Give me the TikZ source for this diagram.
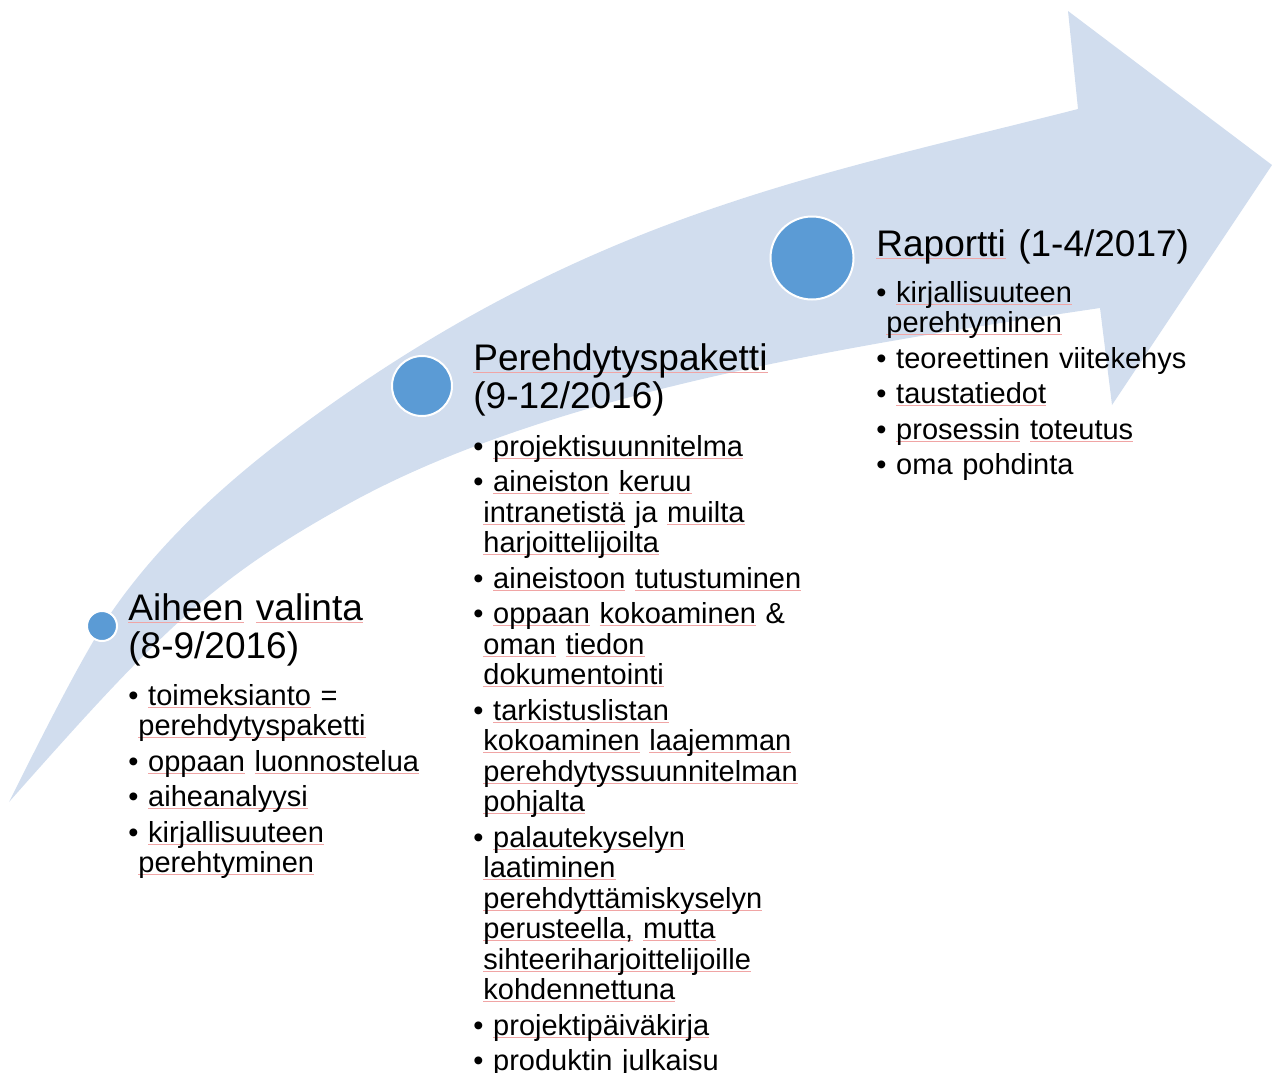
\documentclass[tikz,border=0pt]{standalone}
\usepackage{fontspec}
\setmainfont{Liberation Sans}
\definecolor{arrowfill}{RGB}{209,221,238}
\definecolor{dotfill}{RGB}{91,155,213}
\definecolor{squig}{RGB}{240,165,165}
\newsavebox\sqbox
\newcommand\sq[1]{\leavevmode\sbox\sqbox{#1}\rlap{\textcolor{squig}{\rule[-1.3pt]{\wd\sqbox}{0.5pt}}}\usebox\sqbox}
\newcommand\itm[1]{\hangindent=5pt\hangafter=1\relax\leavevmode •\ #1\par}
\tikzset{
  dot/.style={circle, fill=dotfill, draw=white, line width=1pt, inner sep=0pt},
  ttl/.style={inner sep=0pt, anchor=base west, align=left, text width=200pt,
    font=\fontsize{18.5pt}{19pt}\selectfont},
  lst/.style={inner sep=0pt, anchor=base west, align=left, text width=185pt,
    font=\fontsize{14.5pt}{15.25pt}\selectfont}
}
\begin{document}
\begin{tikzpicture}[x=0.5pt,y=-0.5pt]
\useasboundingbox (0,0) rectangle (1272,1072);
% curved arrow
\fill[arrowfill] (9,802) .. controls (40,740) and (85,650) .. (113,610)
  .. controls (173,524) and (257,456) .. (337,400)
  .. controls (607,211) and (828,173) .. (1078,109)
  -- (1068,11) -- (1272,165) -- (1112,405) -- (1100,308)
  .. controls (850,345) and (550,393) .. (350,503)
  .. controls (210,580) and (159,632.5) .. (9,802) -- cycle;
% milestones
\node[dot, minimum size=15pt] (c1) at (102,626) {};
\node[dot, minimum size=30pt] (c2) at (422,386) {};
\node[dot, minimum size=41.5pt] (c3) at (812,258) {};
% column 1
\node[ttl] (t1) at (128,620) {\sq{Aiheen} \sq{valinta}\\(8-9/2016)};
\node[lst] (l1) at (128,705) {\setlength{\parskip}{2.5pt}%
\itm{\sq{toimeksianto} =\newline\sq{perehdytyspaketti}}
\itm{\sq{oppaan} \sq{luonnostelua}}
\itm{\sq{aiheanalyysi}}
\itm{\sq{kirjallisuuteen}\newline\sq{perehtyminen}}};
% column 2
\node[ttl] (t2) at (473,370) {\sq{Perehdytyspaketti}\\(9-12/2016)};
\node[lst] (l2) at (473,456) {\setlength{\parskip}{2.5pt}%
\itm{\sq{projektisuunnitelma}}
\itm{\sq{aineiston} \sq{keruu}\newline\sq{intranetistä} ja \sq{muilta}\newline\sq{harjoittelijoilta}}
\itm{\sq{aineistoon} \sq{tutustuminen}}
\itm{\sq{oppaan} \sq{kokoaminen} \&\newline\sq{oman} \sq{tiedon}\newline\sq{dokumentointi}}
\itm{\sq{tarkistuslistan}\newline\sq{kokoaminen} \sq{laajemman}\newline\sq{perehdytyssuunnitelman}\newline\sq{pohjalta}}
\itm{\sq{palautekyselyn}\newline\sq{laatiminen}\newline\sq{perehdyttämiskyselyn}\newline\sq{perusteella,} \sq{mutta}\newline\sq{sihteeriharjoittelijoille}\newline\sq{kohdennettuna}}
\itm{\sq{projektipäiväkirja}}
\itm{produktin julkaisu}};
% column 3
\node[ttl] (t3) at (876,256) {\sq{Raportti} (1-4/2017)};
\node[lst] (l3) at (876,302) {\setlength{\parskip}{2.5pt}%
\itm{\sq{kirjallisuuteen}\newline\sq{perehtyminen}}
\itm{teoreettinen viitekehys}
\itm{\sq{taustatiedot}}
\itm{\sq{prosessin} \sq{toteutus}}
\itm{oma pohdinta}};
\end{tikzpicture}
\end{document}
